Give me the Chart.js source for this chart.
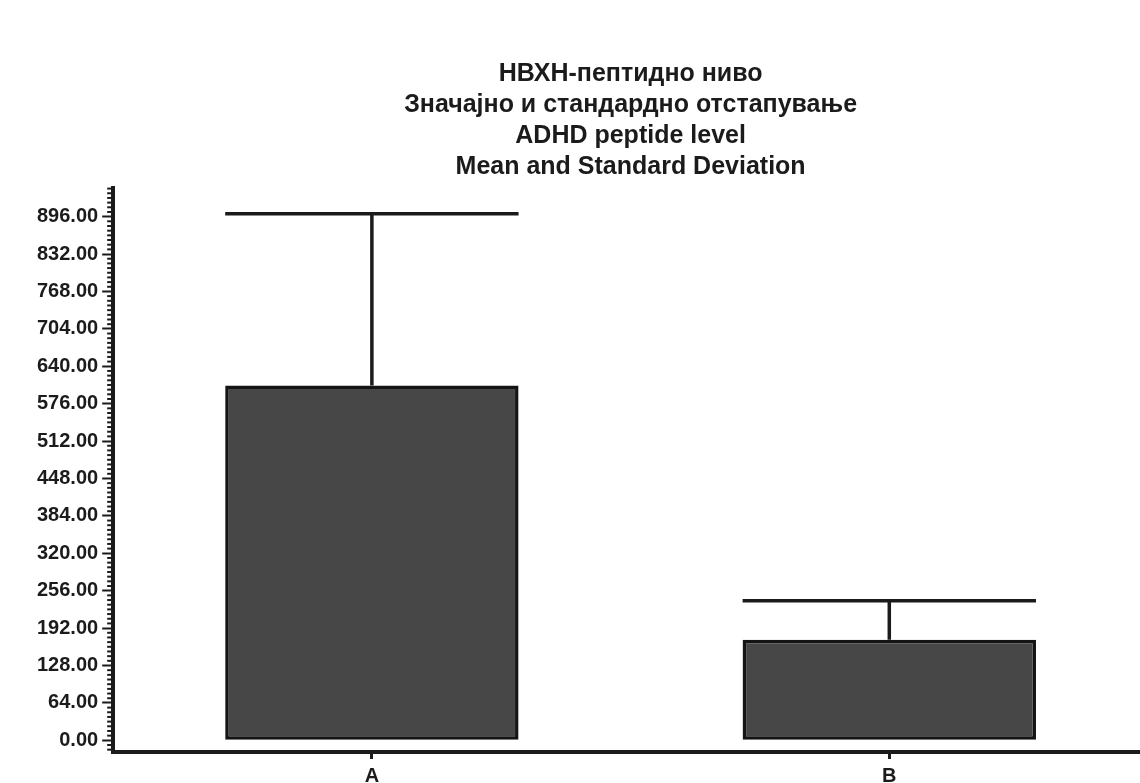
<!DOCTYPE html>
<html>
<head>
<meta charset="utf-8">
<script src="https://cdn.jsdelivr.net/npm/chart.js@4.4.1/dist/chart.umd.min.js"></script>
<style>
  html, body { margin: 0; padding: 0; background: #fff; overflow: hidden; }
  #wrap { width: 1140px; height: 783px; overflow: hidden; }
</style>
</head>
<body>
<div id="wrap"><canvas id="myChart" width="1148" height="783"></canvas></div>
<script>
const groups = ['A', 'B'];
const means = [607, 172];
const stdDev = [294, 67];
const yTicks = [0, 64, 128, 192, 256, 320, 384, 448, 512, 576, 640, 704, 768, 832, 896];
const titleLines = [
    'НВХН-пептидно ниво',
    'Значајно и стандардно отстапување',
    'ADHD peptide level',
    'Mean and Standard Deviation'
];

const ink = '#1b1b1b';
const fontFam = "'Liberation Sans', Arial, sans-serif";

// error bars + minor ticks, drawn with the chart's own scales
const extras = {
    id: 'extras',
    afterDatasetsDraw(chart) {
        const ctx = chart.ctx;
        const xs = chart.scales.x;
        const ys = chart.scales.y;
        const meta = chart.getDatasetMeta(0);
        ctx.save();
        ctx.strokeStyle = ink;
        ctx.lineWidth = 3.5;
        for (let i = 0; i < means.length; i++) {
            const bar = meta.data[i];
            const half = bar.width / 2;
            const x = xs.getPixelForValue(i);
            const yTop = ys.getPixelForValue(means[i]);
            const yErr = ys.getPixelForValue(means[i] + stdDev[i]);
            ctx.beginPath();
            ctx.moveTo(x, yTop);
            ctx.lineTo(x, yErr);
            ctx.moveTo(x - half, yErr);
            ctx.lineTo(x + half, yErr);
            ctx.stroke();
        }
        // minor ticks every 8
        ctx.lineWidth = 2;
        const left = chart.chartArea.left;
        for (let v = -16; v <= ys.max; v += 8) {
            if (v % 64 === 0) continue;
            const y = ys.getPixelForValue(v);
            ctx.beginPath();
            ctx.moveTo(left - 6, y);
            ctx.lineTo(left, y);
            ctx.stroke();
        }
        ctx.restore();
    }
};

const config = {
    type: 'bar',
    data: {
        labels: groups,
        datasets: [{
            data: means,
            backgroundColor: '#474747',
            borderColor: '#141414',
            borderWidth: 3.5,
            borderSkipped: false,
            barPercentage: 0.567,
            categoryPercentage: 1
        }]
    },
    options: {
        responsive: false,
        animation: false,
        layout: { padding: { left: 33, right: 0, top: 59, bottom: 0 } },
        plugins: {
            legend: { display: false },
            tooltip: { enabled: false },
            title: {
                display: true,
                fullSize: false,
                text: titleLines,
                color: ink,
                font: { family: fontFam, size: 25, weight: 'bold', lineHeight: 1.24 },
                padding: { top: 0, bottom: 5 }
            }
        },
        scales: {
            x: {
                offset: true,
                afterFit(axis) { axis.height = 31; },
                grid: { display: true, offset: false, drawOnChartArea: false, tickLength: 7, tickWidth: 3, color: ink },
                border: { display: true, width: 4, color: ink },
                ticks: { color: ink, padding: 5, font: { family: fontFam, size: 20, weight: 'bold' } }
            },
            y: {
                min: -20,
                max: 945,
                afterBuildTicks(axis) {
                    axis.ticks = yTicks.map(v => ({ value: v }));
                },
                grid: { display: true, drawOnChartArea: false, tickLength: 11, tickWidth: 2, color: ink },
                border: { display: true, width: 4, color: ink },
                ticks: {
                    color: ink,
                    padding: 4,
                    font: { family: fontFam, size: 20, weight: 'bold' },
                    callback: v => Number(v).toFixed(2)
                }
            }
        }
    },
    plugins: [extras]
};

const myChart = new Chart(document.getElementById('myChart'), config);
</script>
</body>
</html>
